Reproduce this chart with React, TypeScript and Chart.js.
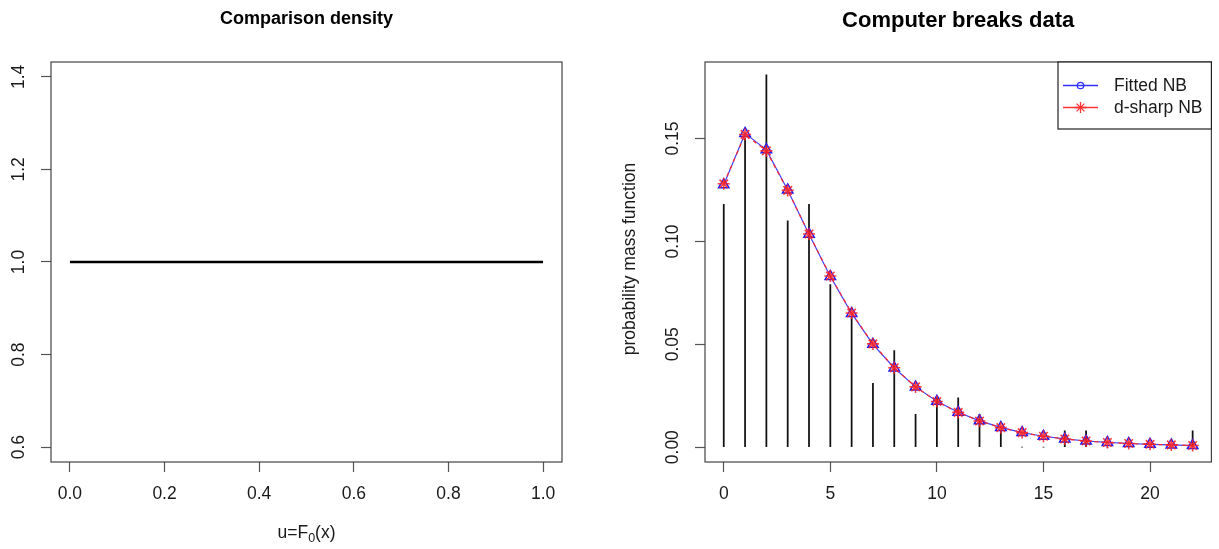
import React, { useEffect, useRef } from 'react';
import { Chart, registerables } from 'chart.js';

Chart.register(...registerables);

const FONT = '"Liberation Sans", Arial, Helvetica, sans-serif';
const TXT = 17.5;

// ---------- Left panel data ----------
const leftTitle = 'Comparison density';
const leftXLabelParts = ['u=F', '0', '(x)'];
const leftXTicks = [0, 0.2, 0.4, 0.6, 0.8, 1.0];
const leftYTicks = [0.6, 0.8, 1.0, 1.2, 1.4];
const densityU = [0, 1];
const densityValue = [1, 1];

// ---------- Right panel data ----------
const rightTitle = 'Computer breaks data';
const rightYLabel = 'probability mass function';
const breaks = [0, 1, 2, 3, 4, 5, 6, 7, 8, 9, 10, 11, 12, 13, 14, 15, 16, 17, 18, 19, 20, 21, 22];
const observedPmf = [0.118, 0.150, 0.181, 0.110, 0.118, 0.079, 0.063, 0.031, 0.047, 0.016, 0.024, 0.024, 0.016, 0.008, 0, 0, 0.008, 0.008, 0, 0, 0, 0, 0.008];
const fittedNB = [0.1275, 0.1525, 0.1445, 0.1250, 0.1035, 0.0830, 0.0650, 0.0500, 0.0385, 0.0293, 0.0223, 0.0170, 0.0128, 0.0096, 0.0071, 0.0053, 0.0040, 0.0030, 0.0023, 0.0018, 0.0014, 0.0011, 0.0008];
const dsharpNB = [0.1280, 0.1520, 0.1440, 0.1248, 0.1036, 0.0832, 0.0652, 0.0502, 0.0386, 0.0293, 0.0222, 0.0169, 0.0127, 0.0095, 0.0071, 0.0053, 0.0040, 0.0030, 0.0023, 0.0018, 0.0014, 0.0011, 0.0008];
const rightXTicks = [0, 5, 10, 15, 20];
const rightYTicks = [0, 0.05, 0.1, 0.15];
const legendLabels = ['Fitted NB', 'd-sharp NB'];

const W = 1219;
const H = 549;
const LEFT_W = 609;
const RIGHT_W = 610;

function xAxis(min: number, max: number, ticks: number[], fmt: (v: number) => string, h: number) {
  return {
    type: 'linear', min, max, position: 'bottom', offset: false,
    afterBuildTicks: (s: any) => { s.ticks = ticks.map((v) => ({ value: v })); },
    afterFit: (s: any) => { s.height = h; },
    grid: { drawOnChartArea: false, drawTicks: true, tickLength: 10, tickColor: '#555', tickWidth: 1.2, offset: false },
    border: { display: false },
    ticks: {
      font: { family: FONT, size: TXT }, color: '#1a1a1a', padding: 12,
      maxRotation: 0, minRotation: 0, autoSkip: false,
      callback: (v: any) => fmt(Number(v)),
    },
  };
}

function yAxis(min: number, max: number, ticks: number[], w: number) {
  return {
    type: 'linear', min, max, position: 'left',
    afterBuildTicks: (s: any) => { s.ticks = ticks.map((v) => ({ value: v })); },
    afterFit: (s: any) => { s.width = w; },
    grid: { drawOnChartArea: false, drawTicks: true, tickLength: 10, tickColor: '#555', tickWidth: 1.2, offset: false },
    border: { display: false },
    ticks: { display: false },
  };
}

function drawBox(ctx: CanvasRenderingContext2D, a: any) {
  ctx.strokeStyle = '#444';
  ctx.lineWidth = 1.2;
  ctx.strokeRect(a.left, a.top, a.right - a.left, a.bottom - a.top);
}

function drawRotYLabels(ctx: CanvasRenderingContext2D, scale: any, ticks: number[], fmt: (v: number) => string, x: number) {
  ctx.fillStyle = '#1a1a1a';
  ctx.font = `${TXT}px ${FONT}`;
  ticks.forEach((v) => {
    const y = scale.getPixelForValue(v);
    ctx.save();
    ctx.translate(x, y);
    ctx.rotate(-Math.PI / 2);
    ctx.textAlign = 'center';
    ctx.textBaseline = 'middle';
    ctx.fillText(fmt(v), 0, 0);
    ctx.restore();
  });
}

function drawStar(ctx: CanvasRenderingContext2D, x: number, y: number, r: number) {
  const d = r * Math.SQRT1_2;
  ctx.beginPath();
  ctx.moveTo(x - r, y); ctx.lineTo(x + r, y);
  ctx.moveTo(x, y - r); ctx.lineTo(x, y + r);
  ctx.moveTo(x - d, y - d); ctx.lineTo(x + d, y + d);
  ctx.moveTo(x - d, y + d); ctx.lineTo(x + d, y - d);
  ctx.stroke();
}

const leftDecor = {
  id: 'leftDecor',
  afterDraw(chart: any) {
    const ctx = chart.ctx as CanvasRenderingContext2D;
    const a = chart.chartArea;
    ctx.save();
    drawBox(ctx, a);
    ctx.fillStyle = '#000';
    ctx.font = `bold 18px ${FONT}`;
    ctx.textAlign = 'center';
    ctx.textBaseline = 'alphabetic';
    ctx.fillText(leftTitle, (a.left + a.right) / 2, 24);
    drawRotYLabels(ctx, chart.scales.y, leftYTicks, (v) => v.toFixed(1), a.left - 32);
    const big = `${TXT}px ${FONT}`;
    const small = `12.5px ${FONT}`;
    ctx.font = big;
    const w1 = ctx.measureText(leftXLabelParts[0]).width;
    const w3 = ctx.measureText(leftXLabelParts[2]).width;
    ctx.font = small;
    const w2 = ctx.measureText(leftXLabelParts[1]).width;
    const total = w1 + w2 + w3;
    let x = (a.left + a.right) / 2 - total / 2;
    ctx.fillStyle = '#1a1a1a';
    ctx.textAlign = 'left';
    ctx.font = big;
    ctx.fillText(leftXLabelParts[0], x, 537.5);
    x += w1;
    ctx.font = small;
    ctx.fillText(leftXLabelParts[1], x, 542);
    x += w2;
    ctx.font = big;
    ctx.fillText(leftXLabelParts[2], x, 537.5);
    ctx.restore();
  },
};

const rightDecor = {
  id: 'rightDecor',
  afterDraw(chart: any) {
    const ctx = chart.ctx as CanvasRenderingContext2D;
    const a = chart.chartArea;
    ctx.save();
    drawBox(ctx, a);
    ctx.fillStyle = '#000';
    ctx.font = `bold 22px ${FONT}`;
    ctx.textAlign = 'center';
    ctx.textBaseline = 'alphabetic';
    ctx.fillText(rightTitle, (a.left + a.right) / 2, 26.5);
    drawRotYLabels(ctx, chart.scales.y, rightYTicks, (v) => v.toFixed(2), a.left - 32);
    ctx.save();
    ctx.fillStyle = '#1a1a1a';
    ctx.font = `${TXT}px ${FONT}`;
    ctx.translate(21, 259);
    ctx.rotate(-Math.PI / 2);
    ctx.textAlign = 'center';
    ctx.textBaseline = 'middle';
    ctx.fillText(rightYLabel, 0, 0);
    ctx.restore();
    // legend
    const lx = 449;
    const ly = 62;
    const lw = a.right - lx;
    const lh = 67;
    ctx.fillStyle = '#fff';
    ctx.fillRect(lx, ly, lw, lh);
    ctx.strokeStyle = '#222';
    ctx.lineWidth = 1.2;
    ctx.strokeRect(lx, ly, lw, lh);
    const rows = [85.5, 107.5];
    const cols = ['#3333ff', '#ff3333'];
    rows.forEach((ry, i) => {
      ctx.strokeStyle = cols[i];
      ctx.lineWidth = 1.3;
      ctx.beginPath();
      ctx.moveTo(lx + 5, ry);
      ctx.lineTo(lx + 40, ry);
      ctx.stroke();
      if (i === 0) {
        ctx.beginPath();
        ctx.arc(lx + 22.5, ry, 3.2, 0, Math.PI * 2);
        ctx.stroke();
      } else {
        drawStar(ctx, lx + 22.5, ry, 5.5);
      }
      ctx.fillStyle = '#1a1a1a';
      ctx.font = `${TXT}px ${FONT}`;
      ctx.textAlign = 'left';
      ctx.textBaseline = 'middle';
      ctx.fillText(legendLabels[i], lx + 56, ry + 0.5);
    });
    ctx.restore();
  },
};

function buildLeft(): any {
  return {
    type: 'line',
    data: {
      datasets: [
        {
          label: 'density',
          data: densityU.map((u, i) => ({ x: u, y: densityValue[i] })),
          borderColor: '#000',
          borderWidth: 2.5,
          pointRadius: 0,
          fill: false,
        },
      ],
    },
    options: {
      responsive: false,
      animation: false,
      events: [],
      layout: { padding: { left: 0, right: 47, top: 62, bottom: 0 } },
      plugins: { legend: { display: false }, tooltip: { enabled: false }, title: { display: false } },
      scales: {
        x: xAxis(-0.04, 1.04, leftXTicks, (v) => v.toFixed(1), 87),
        y: yAxis(0.568, 1.432, leftYTicks, 51),
      },
    },
    plugins: [leftDecor],
  };
}

function buildRight(): any {
  return {
    type: 'line',
    data: {
      datasets: [
        {
          type: 'line',
          label: legendLabels[1],
          data: breaks.map((k, i) => ({ x: k, y: dsharpNB[i] })),
          borderColor: 'rgba(255,40,40,0.95)',
          borderWidth: 1.3,
          borderDash: [4, 4],
          pointStyle: 'star',
          pointRadius: 6,
          pointBorderColor: 'rgba(255,30,30,0.85)',
          pointBackgroundColor: '#ff0000',
          pointBorderWidth: 1.6,
          order: 0,
        },
        {
          type: 'line',
          label: legendLabels[0],
          data: breaks.map((k, i) => ({ x: k, y: fittedNB[i] })),
          borderColor: '#4040ff',
          borderWidth: 1.2,
          pointStyle: 'triangle',
          pointRadius: 6,
          pointBorderColor: '#1a1aff',
          pointBackgroundColor: 'rgba(0,0,0,0)',
          pointBorderWidth: 1.5,
          order: 1,
        },
        {
          type: 'bar',
          label: 'observed',
          data: breaks.map((k, i) => ({ x: k, y: observedPmf[i] })),
          backgroundColor: '#111',
          borderWidth: 0,
          barThickness: 1.1,
          grouped: false,
          order: 2,
        },
      ],
    },
    options: {
      responsive: false,
      animation: false,
      events: [],
      layout: { padding: { left: 0, right: 3, top: 62, bottom: 0 } },
      plugins: { legend: { display: false }, tooltip: { enabled: false }, title: { display: false } },
      scales: {
        x: xAxis(-0.88, 22.88, rightXTicks, (v) => String(Math.round(v)), 87),
        y: yAxis(-0.0072, 0.1872, rightYTicks, 96),
      },
    },
    plugins: [rightDecor],
  };
}

function Panel({ build, width }: { build: () => any; width: number }) {
  const ref = useRef<HTMLCanvasElement>(null);
  useEffect(() => {
    if (!ref.current) return;
    const chart = new Chart(ref.current, build());
    return () => chart.destroy();
  }, []);
  return <canvas ref={ref} width={width} height={H} style={{ display: 'block', width, height: H }} />;
}

export default function App() {
  return (
    <div style={{ position: 'absolute', left: 0, top: 0, width: W, height: H, background: '#fff', display: 'flex' }}>
      <Panel build={buildLeft} width={LEFT_W} />
      <Panel build={buildRight} width={RIGHT_W} />
    </div>
  );
}
